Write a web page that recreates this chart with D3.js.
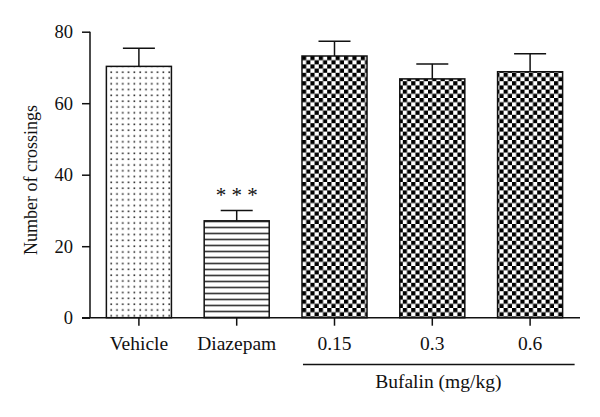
<!DOCTYPE html>
<html><head><meta charset="utf-8">
<script src="https://cdn.jsdelivr.net/npm/d3@7"></script>
<style>body{margin:0;background:#fff}svg{display:block}text{font-family:"Liberation Serif","DejaVu Serif",serif;fill:#111}</style>
</head><body>
<svg id="c" width="600" height="417"></svg>
<script>
const categories = ["Vehicle","Diazepam","0.15","0.3","0.6"];
const means = [70.3, 27.1, 73.2, 66.8, 68.8];
const errors = [5.1, 2.9, 4.1, 4.2, 5.0];
const patterns = ["dots","hlines","checker","checker","checker"];
const yTicks = [0,20,40,60,80];
const significance = ["","***","","",""];
const groupLabel = "Bufalin (mg/kg)";
const yLabel = "Number of crossings";

const svg = d3.select("#c");
const defs = svg.append("defs");
// dots
const pd = defs.append("pattern").attr("id","dots").attr("patternUnits","userSpaceOnUse")
  .attr("width",5.8).attr("height",5.8).attr("x",109).attr("y",70);
pd.append("rect").attr("width",5.8).attr("height",5.8).attr("fill","#fff");
pd.append("rect").attr("x",1.4).attr("y",1.4).attr("width",1.6).attr("height",1.6).attr("fill","#222");
// horizontal lines
const ph = defs.append("pattern").attr("id","hlines").attr("patternUnits","userSpaceOnUse")
  .attr("width",10).attr("height",6).attr("y",220.7);
ph.append("rect").attr("width",10).attr("height",6).attr("fill","#fff");
ph.append("rect").attr("y",0).attr("width",10).attr("height",1.4).attr("fill","#111");
// checker
const c = 4.2;
const pc = defs.append("pattern").attr("id","checker").attr("patternUnits","userSpaceOnUse")
  .attr("width",2*c).attr("height",2*c).attr("x",302).attr("y",56);
pc.append("rect").attr("width",2*c).attr("height",2*c).attr("fill","#fff");
pc.append("rect").attr("width",c).attr("height",c).attr("fill","#000");
pc.append("rect").attr("x",c).attr("y",c).attr("width",c).attr("height",c).attr("fill","#000");

const x = d3.scaleBand().domain(categories).range([90,579]).paddingInner(0.335).paddingOuter(0.1675);
const y = d3.scaleLinear().domain([0,80]).range([317.7,31.7]);

// bars
svg.selectAll("rect.bar").data(categories).enter().append("rect").attr("class","bar")
  .attr("x",d=>x(d)).attr("width",x.bandwidth())
  .attr("y",(d,i)=>y(means[i])).attr("height",(d,i)=>y(0)-y(means[i]))
  .attr("fill",(d,i)=>`url(#${patterns[i]})`).attr("stroke","#111").attr("stroke-width",1.5);

// error bars
const capW = 32;
categories.forEach((d,i)=>{
  const cx = x(d)+x.bandwidth()/2;
  svg.append("line").attr("x1",cx).attr("x2",cx).attr("y1",y(means[i])).attr("y2",y(means[i]+errors[i]))
    .attr("stroke","#111").attr("stroke-width",1.5);
  svg.append("line").attr("x1",cx-capW/2).attr("x2",cx+capW/2).attr("y1",y(means[i]+errors[i])).attr("y2",y(means[i]+errors[i]))
    .attr("stroke","#111").attr("stroke-width",1.5);
  if (significance[i]) {
    svg.append("text").attr("x",cx).attr("y",y(means[i]+errors[i])-8).attr("text-anchor","middle")
      .attr("font-size",21).attr("fill","#333").text(significance[i].split("").join(" "));
  }
});

// y axis
const yAxis = d3.axisLeft(y).tickValues(yTicks).tickSize(8).tickPadding(9).tickSizeOuter(0);
const gy = svg.append("g").attr("transform","translate(90,0)").call(yAxis);
gy.selectAll("line").attr("stroke","#111").attr("stroke-width",1.5);
gy.selectAll("text").attr("font-size",18.5).attr("font-family","Liberation Serif").attr("fill","#111");
gy.select("path").remove();
svg.append("line").attr("x1",90).attr("x2",90).attr("y1",y(80)).attr("y2",y(0)).attr("stroke","#111").attr("stroke-width",1.5);

// x axis
const xAxis = d3.axisBottom(x).tickSize(8).tickPadding(10).tickSizeOuter(0);
const gx = svg.append("g").attr("transform",`translate(0,${y(0)})`).call(xAxis);
gx.select("path").remove();
gx.selectAll("line").attr("stroke","#111").attr("stroke-width",1.5);
gx.selectAll("text").attr("font-size",19.5).attr("font-family","Liberation Serif").attr("fill","#111");
svg.append("line").attr("x1",82).attr("x2",580).attr("y1",y(0)).attr("y2",y(0)).attr("stroke","#111").attr("stroke-width",1.5);

// group line & label
const gx0 = x("0.15"), gx1 = x("0.6")+x.bandwidth();
svg.append("line").attr("x1",gx0+1).attr("x2",gx1+12).attr("y1",364.5).attr("y2",364.5).attr("stroke","#111").attr("stroke-width",1.3);
svg.append("text").attr("x",(gx0+gx1+12)/2).attr("y",388).attr("text-anchor","middle").attr("font-size",19.5).text(groupLabel);

// y label
svg.append("text").attr("transform","translate(37,180) rotate(-90)").attr("text-anchor","middle").attr("font-size",18).text(yLabel);
</script>
</body></html>
